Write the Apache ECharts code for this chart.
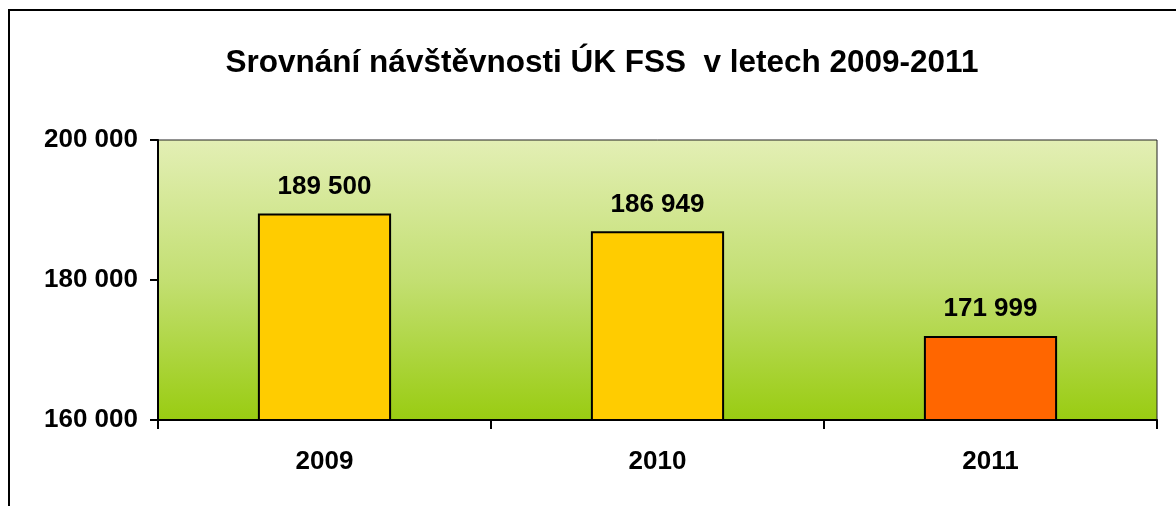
<!DOCTYPE html>
<html>
<head>
<meta charset="utf-8">
<script src="https://cdn.jsdelivr.net/npm/echarts@6/dist/echarts.min.js"></script>
<style>
  html, body { margin: 0; padding: 0; background: #fff; }
  #chart { width: 1176px; height: 506px; }
</style>
</head>
<body>
<div id="chart"></div>
<script>
var years = ['2009', '2010', '2011'];
var visits = [189500, 186949, 171999];
var barColors = ['#FFCC00', '#FFCC00', '#FF6600'];
var yTicks = [160000, 180000, 200000];

function fmt(v) {
    return String(v).replace(/\B(?=(\d{3})+(?!\d))/g, ' ');
}

var myChart = echarts.init(document.getElementById('chart'));

var option = {
    backgroundColor: '#ffffff',
    animation: false,
    textStyle: { fontFamily: 'Liberation Sans, Arial, sans-serif' },
    title: {
        text: 'Srovnání návštěvnosti ÚK FSS  v letech 2009-2011',
        left: 597,
        top: 42,
        textAlign: 'center',
        textStyle: { fontSize: 31.5, fontWeight: 'bold', color: '#000' }
    },
    graphic: [{
        type: 'rect',
        shape: { x: 9, y: 10, width: 1200, height: 600 },
        style: { fill: 'none', stroke: '#000', lineWidth: 2 },
        silent: true
    }],
    grid: {
        left: 158,
        top: 140,
        width: 999,
        height: 280,
        show: true,
        borderColor: '#222',
        borderWidth: 1,
        backgroundColor: new echarts.graphic.LinearGradient(0, 0, 0, 1, [
            { offset: 0, color: '#e3efb5' },
            { offset: 0.5, color: '#c3df72' },
            { offset: 1, color: '#99cc11' }
        ])
    },
    xAxis: {
        type: 'category',
        data: years,
        axisLine: { lineStyle: { color: '#000', width: 2 } },
        axisTick: { show: true, length: 9, lineStyle: { color: '#000', width: 2 } },
        axisLabel: { fontSize: 26, fontWeight: 'bold', color: '#000', margin: 29 }
    },
    yAxis: {
        type: 'value',
        min: yTicks[0],
        max: yTicks[yTicks.length - 1],
        interval: yTicks[1] - yTicks[0],
        splitLine: { show: false },
        axisLine: { show: true, lineStyle: { color: '#000', width: 2 } },
        axisTick: { show: true, length: 8, lineStyle: { color: '#000', width: 2 } },
        axisLabel: {
            fontSize: 26, fontWeight: 'bold', color: '#000', margin: 20,
            formatter: fmt
        }
    },
    series: [{
        type: 'bar',
        barWidth: '40%',
        data: visits.map(function (v, i) {
            return { value: v, itemStyle: { color: barColors[i] } };
        }),
        itemStyle: { borderColor: '#000', borderWidth: 2 },
        label: {
            show: true,
            position: 'top',
            distance: 14,
            fontSize: 26,
            fontWeight: 'bold',
            color: '#000',
            formatter: function (p) { return fmt(p.value); }
        }
    }]
};

option && myChart.setOption(option);
</script>
</body>
</html>
